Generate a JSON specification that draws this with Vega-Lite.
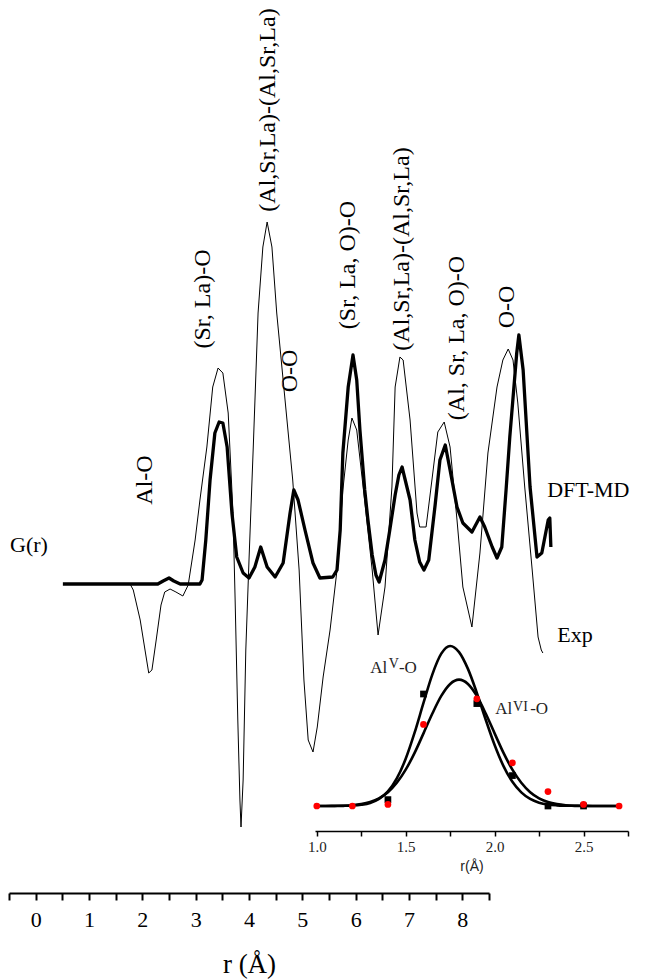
{
  "$schema": "https://vega.github.io/schema/vega-lite/v6.json",
  "width": 640,
  "height": 893,
  "autosize": {"type": "none"},
  "padding": {"left": 9, "top": 0, "right": 0, "bottom": 86},
  "background": "white",
  "config": {"view": {"stroke": null}, "font": "Liberation Serif"},
  "datasets": {
    "exp": [
      {"r":1.24,"g":0},{"r":1.77,"g":0},{"r":1.83,"g":-0.06},{"r":1.96,"g":-0.36},{"r":2.05,"g":-0.66},{"r":2.12,"g":-0.89},{"r":2.18,"g":-0.86},{"r":2.26,"g":-0.56},{"r":2.35,"g":-0.21},{"r":2.42,"g":-0.08},{"r":2.52,"g":-0.05},{"r":2.63,"g":-0.08},{"r":2.76,"g":-0.12},{"r":2.86,"g":-0.01},{"r":2.99,"g":0.44},{"r":3.08,"g":0.84},{"r":3.21,"g":1.37},{"r":3.32,"g":1.97},{"r":3.42,"g":2.16},{"r":3.51,"g":2.11},{"r":3.61,"g":1.71},{"r":3.7,"g":0.71},{"r":3.74,"g":-0.16},{"r":3.79,"g":-1.36},{"r":3.83,"g":-2.16},{"r":3.85,"g":-2.43},{"r":3.89,"g":-1.96},{"r":3.94,"g":-0.66},{"r":4.0,"g":0.24},{"r":4.08,"g":1.37},{"r":4.17,"g":2.71},{"r":4.26,"g":3.37},{"r":4.34,"g":3.62},{"r":4.43,"g":3.37},{"r":4.52,"g":2.71},{"r":4.64,"g":2.04},{"r":4.82,"g":1.04},{"r":4.94,"g":0.14},{"r":5.03,"g":-0.96},{"r":5.11,"g":-1.56},{"r":5.2,"g":-1.68},{"r":5.28,"g":-1.43},{"r":5.39,"g":-0.93},{"r":5.52,"g":-0.46},{"r":5.65,"g":0.14},{"r":5.76,"g":0.94},{"r":5.86,"g":1.44},{"r":5.93,"g":1.66},{"r":6.02,"g":1.54},{"r":6.14,"g":0.97},{"r":6.31,"g":0.14},{"r":6.42,"g":-0.51},{"r":6.55,"g":-0.03},{"r":6.68,"g":0.97},{"r":6.74,"g":1.97},{"r":6.83,"g":2.27},{"r":6.89,"g":2.24},{"r":7.02,"g":1.64},{"r":7.15,"g":0.71},{"r":7.2,"g":0.57},{"r":7.32,"g":0.57},{"r":7.43,"g":1.04},{"r":7.54,"g":1.52},{"r":7.66,"g":1.62},{"r":7.77,"g":1.37},{"r":7.9,"g":0.64},{"r":8.01,"g":-0.03},{"r":8.18,"g":-0.43},{"r":8.33,"g":0.31},{"r":8.48,"g":1.31},{"r":8.65,"g":1.97},{"r":8.76,"g":2.24},{"r":8.86,"g":2.35},{"r":8.95,"g":2.24},{"r":9.04,"g":1.81},{"r":9.17,"g":0.97},{"r":9.31,"g":0.14},{"r":9.42,"g":-0.53},{"r":9.48,"g":-0.66},{"r":9.51,"g":-0.69}
    ],
    "dft": [
      {"r":0.51,"g":0},{"r":2.29,"g":0},{"r":2.39,"g":0.03},{"r":2.5,"g":0.06},{"r":2.59,"g":0.03},{"r":2.71,"g":0},{"r":3.08,"g":0},{"r":3.12,"g":0.04},{"r":3.19,"g":0.44},{"r":3.27,"g":1.04},{"r":3.36,"g":1.51},{"r":3.44,"g":1.62},{"r":3.51,"g":1.61},{"r":3.59,"g":1.37},{"r":3.68,"g":0.71},{"r":3.77,"g":0.27},{"r":3.89,"g":0.11},{"r":4.0,"g":0.06},{"r":4.11,"g":0.17},{"r":4.22,"g":0.37},{"r":4.34,"g":0.17},{"r":4.49,"g":0.07},{"r":4.64,"g":0.21},{"r":4.77,"g":0.71},{"r":4.84,"g":0.94},{"r":4.92,"g":0.84},{"r":5.05,"g":0.54},{"r":5.2,"g":0.21},{"r":5.33,"g":0.06},{"r":5.57,"g":0.07},{"r":5.65,"g":0.14},{"r":5.71,"g":0.54},{"r":5.76,"g":1.31},{"r":5.86,"g":1.97},{"r":5.95,"g":2.29},{"r":6.02,"g":2.04},{"r":6.08,"g":1.54},{"r":6.17,"g":0.94},{"r":6.23,"g":0.64},{"r":6.31,"g":0.29},{"r":6.38,"g":0.09},{"r":6.44,"g":0.02},{"r":6.55,"g":0.24},{"r":6.64,"g":0.54},{"r":6.74,"g":0.89},{"r":6.81,"g":1.09},{"r":6.87,"g":1.17},{"r":6.92,"g":1.06},{"r":7.02,"g":0.84},{"r":7.11,"g":0.44},{"r":7.2,"g":0.22},{"r":7.28,"g":0.14},{"r":7.37,"g":0.24},{"r":7.49,"g":0.79},{"r":7.58,"g":1.24},{"r":7.68,"g":1.39},{"r":7.77,"g":1.14},{"r":7.9,"g":0.77},{"r":8.01,"g":0.61},{"r":8.18,"g":0.52},{"r":8.33,"g":0.67},{"r":8.42,"g":0.57},{"r":8.56,"g":0.37},{"r":8.65,"g":0.26},{"r":8.74,"g":0.37},{"r":8.82,"g":0.94},{"r":8.89,"g":1.47},{"r":9.02,"g":2.31},{"r":9.06,"g":2.49},{"r":9.14,"g":2.14},{"r":9.27,"g":0.97},{"r":9.4,"g":0.27},{"r":9.49,"g":0.31},{"r":9.61,"g":0.64},{"r":9.64,"g":0.66},{"r":9.66,"g":0.37}
    ],
    "peak_labels": [
      {"r":2.05,"g":1.04,"t":"Al-O"},
      {"r":3.13,"g":2.85,"t":"(Sr, La)-O"},
      {"r":4.36,"g":4.74,"t":"(Al,Sr,La)-(Al,Sr,La)"},
      {"r":4.77,"g":2.13,"t":"O-O"},
      {"r":5.86,"g":3.19,"t":"(Sr, La, O)-O"},
      {"r":6.87,"g":3.35,"t":"(Al,Sr,La)-(Al,Sr,La)"},
      {"r":7.9,"g":2.46,"t":"(Al, Sr, La, O)-O"},
      {"r":8.84,"g":2.77,"t":"O-O"}
    ],
    "side_labels": [
      {"r":-0.48,"g":0.39,"t":"G(r)"},
      {"r":9.59,"g":0.94,"t":"DFT-MD"},
      {"r":9.78,"g":-0.51,"t":"Exp"}
    ],
    "inset_curve": [
      {"r":1.0,"v":0,"s":"AlV"},{"r":1.05,"v":0,"s":"AlV"},{"r":1.1,"v":0,"s":"AlV"},{"r":1.15,"v":0.001,"s":"AlV"},{"r":1.2,"v":0.003,"s":"AlV"},{"r":1.25,"v":0.008,"s":"AlV"},{"r":1.3,"v":0.019,"s":"AlV"},{"r":1.35,"v":0.044,"s":"AlV"},{"r":1.4,"v":0.091,"s":"AlV"},{"r":1.45,"v":0.172,"s":"AlV"},{"r":1.5,"v":0.295,"s":"AlV"},{"r":1.55,"v":0.458,"s":"AlV"},{"r":1.6,"v":0.644,"s":"AlV"},{"r":1.65,"v":0.823,"s":"AlV"},{"r":1.7,"v":0.952,"s":"AlV"},{"r":1.75,"v":1.0,"s":"AlV"},{"r":1.8,"v":0.962,"s":"AlV"},{"r":1.85,"v":0.857,"s":"AlV"},{"r":1.9,"v":0.707,"s":"AlV"},{"r":1.95,"v":0.539,"s":"AlV"},{"r":2.0,"v":0.381,"s":"AlV"},{"r":2.05,"v":0.249,"s":"AlV"},{"r":2.1,"v":0.151,"s":"AlV"},{"r":2.15,"v":0.085,"s":"AlV"},{"r":2.2,"v":0.044,"s":"AlV"},{"r":2.25,"v":0.021,"s":"AlV"},{"r":2.3,"v":0.009,"s":"AlV"},{"r":2.35,"v":0.004,"s":"AlV"},{"r":2.4,"v":0.002,"s":"AlV"},{"r":2.45,"v":0.001,"s":"AlV"},{"r":2.5,"v":0,"s":"AlV"},{"r":2.55,"v":0,"s":"AlV"},{"r":2.6,"v":0,"s":"AlV"},{"r":2.65,"v":0,"s":"AlV"},{"r":2.7,"v":0,"s":"AlV"},
      {"r":1.0,"v":0,"s":"AlVI"},{"r":1.05,"v":0,"s":"AlVI"},{"r":1.1,"v":0.001,"s":"AlVI"},{"r":1.15,"v":0.002,"s":"AlVI"},{"r":1.2,"v":0.005,"s":"AlVI"},{"r":1.25,"v":0.012,"s":"AlVI"},{"r":1.3,"v":0.025,"s":"AlVI"},{"r":1.35,"v":0.048,"s":"AlVI"},{"r":1.4,"v":0.086,"s":"AlVI"},{"r":1.45,"v":0.145,"s":"AlVI"},{"r":1.5,"v":0.227,"s":"AlVI"},{"r":1.55,"v":0.332,"s":"AlVI"},{"r":1.6,"v":0.454,"s":"AlVI"},{"r":1.65,"v":0.578,"s":"AlVI"},{"r":1.7,"v":0.688,"s":"AlVI"},{"r":1.75,"v":0.763,"s":"AlVI"},{"r":1.8,"v":0.79,"s":"AlVI"},{"r":1.85,"v":0.763,"s":"AlVI"},{"r":1.9,"v":0.688,"s":"AlVI"},{"r":1.95,"v":0.578,"s":"AlVI"},{"r":2.0,"v":0.454,"s":"AlVI"},{"r":2.05,"v":0.332,"s":"AlVI"},{"r":2.1,"v":0.227,"s":"AlVI"},{"r":2.15,"v":0.145,"s":"AlVI"},{"r":2.2,"v":0.086,"s":"AlVI"},{"r":2.25,"v":0.048,"s":"AlVI"},{"r":2.3,"v":0.025,"s":"AlVI"},{"r":2.35,"v":0.012,"s":"AlVI"},{"r":2.4,"v":0.005,"s":"AlVI"},{"r":2.45,"v":0.002,"s":"AlVI"},{"r":2.5,"v":0.001,"s":"AlVI"},{"r":2.55,"v":0,"s":"AlVI"},{"r":2.6,"v":0,"s":"AlVI"},{"r":2.65,"v":0,"s":"AlVI"},{"r":2.7,"v":0,"s":"AlVI"}
    ],
    "squares": [
      {"r":1.4,"v":0.04},{"r":1.6,"v":0.7},{"r":1.9,"v":0.64},{"r":2.1,"v":0.19},{"r":2.3,"v":0},{"r":2.5,"v":0}
    ],
    "dots": [
      {"r":1.0,"v":0},{"r":1.2,"v":0},{"r":1.4,"v":0.01},{"r":1.6,"v":0.51},{"r":1.9,"v":0.67},{"r":2.1,"v":0.27},{"r":2.3,"v":0.09},{"r":2.5,"v":0.01},{"r":2.7,"v":0}
    ],
    "inset_text": [
      {"r":1.3,"v":0.829,"t":"Al"},{"r":1.462,"v":0.829,"t":"-O"},
      {"r":2.003,"v":0.575,"t":"Al"},{"r":2.2,"v":0.575,"t":"-O"}
    ],
    "inset_sup": [
      {"r":1.404,"v":0.86,"t":"V"},{"r":2.104,"v":0.596,"t":"VI"}
    ]
  },
  "layer": [
    {
      "layer": [
        {
          "data": {"name": "exp"},
          "mark": {"type": "line", "color": "black", "strokeWidth": 1},
          "encoding": {
            "x": {
              "field": "r", "type": "quantitative",
              "scale": {"domain": [-0.5, 8.5], "range": [0, 480], "nice": false, "zero": false},
              "axis": {
                "orient": "bottom",
                "title": "r (Å)",
                "values": [-0.5,0,0.5,1,1.5,2,2.5,3,3.5,4,4.5,5,5.5,6,6.5,7,7.5,8,8.5],
                "tickCount": 40,
                "format": ".1f",
                "labelExpr": "indexof(datum.label, '.5') >= 0 ? '' : replace(datum.label, '.0', '')",
                "labelFlush": false, "labelOverlap": false,
                "grid": false,
                "domainColor": "black", "domainWidth": 2,
                "tickColor": "black", "tickWidth": 2, "tickSize": 7,
                "labelFont": "Liberation Serif", "labelFontSize": 22, "labelColor": "black", "labelPadding": 9,
                "titleFont": "Liberation Serif", "titleFontSize": 27, "titleFontWeight": "normal", "titleColor": "black", "titlePadding": 21
              }
            },
            "y": {
              "field": "g", "type": "quantitative",
              "scale": {"domain": [-3.09, 5.84], "nice": false, "zero": false},
              "axis": null
            }
          }
        },
        {
          "data": {"name": "dft"},
          "mark": {"type": "line", "color": "black", "strokeWidth": 3.3, "strokeJoin": "round"},
          "encoding": {
            "x": {"field": "r", "type": "quantitative"},
            "y": {"field": "g", "type": "quantitative"}
          }
        },
        {
          "data": {"name": "peak_labels"},
          "mark": {"type": "text", "angle": 270, "font": "Liberation Serif", "fontSize": 24, "align": "center", "baseline": "middle", "color": "black"},
          "encoding": {
            "x": {"field": "r", "type": "quantitative"},
            "y": {"field": "g", "type": "quantitative"},
            "text": {"field": "t"}
          }
        },
        {
          "data": {"name": "side_labels"},
          "mark": {"type": "text", "font": "Liberation Serif", "fontSize": 22, "align": "left", "baseline": "middle", "color": "black"},
          "encoding": {
            "x": {"field": "r", "type": "quantitative"},
            "y": {"field": "g", "type": "quantitative"},
            "text": {"field": "t"}
          }
        }
      ]
    },
    {
      "layer": [
        {
          "data": {"name": "inset_curve"},
          "mark": {"type": "line", "color": "black", "strokeWidth": 2.6, "interpolate": "monotone"},
          "encoding": {
            "x": {
              "field": "r", "type": "quantitative",
              "scale": {"domain": [0.99, 2.75], "range": [306, 619], "nice": false, "zero": false},
              "axis": {
                "orient": "bottom",
                "offset": -62,
                "title": "r(Å)",
                "values": [1, 1.25, 1.5, 1.75, 2, 2.25, 2.5, 2.75],
                "tickCount": 20,
                "format": ".2f",
                "labelExpr": "indexof(datum.label, '5', 3) >= 0 ? '' : substring(datum.label, 0, 3)",
                "labelFlush": false, "labelOverlap": false,
                "grid": false,
                "domainColor": "black", "domainWidth": 1.5,
                "tickColor": "black", "tickWidth": 1.5, "tickSize": 5,
                "labelFont": "Liberation Serif", "labelFontSize": 15, "labelColor": "#222", "labelPadding": 3,
                "titleFont": "Liberation Sans", "titleFontSize": 14, "titleFontWeight": "normal", "titleColor": "#222", "titlePadding": 5
              }
            },
            "y": {
              "field": "v", "type": "quantitative",
              "scale": {"domain": [0, 1], "range": [806, 646], "nice": false, "zero": false},
              "axis": null
            },
            "detail": {"field": "s"}
          }
        },
        {
          "data": {"name": "squares"},
          "mark": {"type": "point", "shape": "square", "filled": true, "color": "black", "size": 45, "opacity": 1},
          "encoding": {
            "x": {"field": "r", "type": "quantitative"},
            "y": {"field": "v", "type": "quantitative"}
          }
        },
        {
          "data": {"name": "dots"},
          "mark": {"type": "point", "shape": "circle", "filled": true, "color": "#ff0000", "size": 45, "opacity": 1},
          "encoding": {
            "x": {"field": "r", "type": "quantitative"},
            "y": {"field": "v", "type": "quantitative"}
          }
        },
        {
          "data": {"name": "inset_text"},
          "mark": {"type": "text", "font": "Liberation Serif", "fontSize": 17, "align": "left", "baseline": "alphabetic", "color": "#222"},
          "encoding": {
            "x": {"field": "r", "type": "quantitative"},
            "y": {"field": "v", "type": "quantitative"},
            "text": {"field": "t"}
          }
        },
        {
          "data": {"name": "inset_sup"},
          "mark": {"type": "text", "font": "Liberation Serif", "fontSize": 14, "align": "left", "baseline": "alphabetic", "color": "#222"},
          "encoding": {
            "x": {"field": "r", "type": "quantitative"},
            "y": {"field": "v", "type": "quantitative"},
            "text": {"field": "t"}
          }
        }
      ]
    }
  ],
  "resolve": {
    "scale": {"x": "independent", "y": "independent"},
    "axis": {"x": "independent", "y": "independent"}
  }
}
